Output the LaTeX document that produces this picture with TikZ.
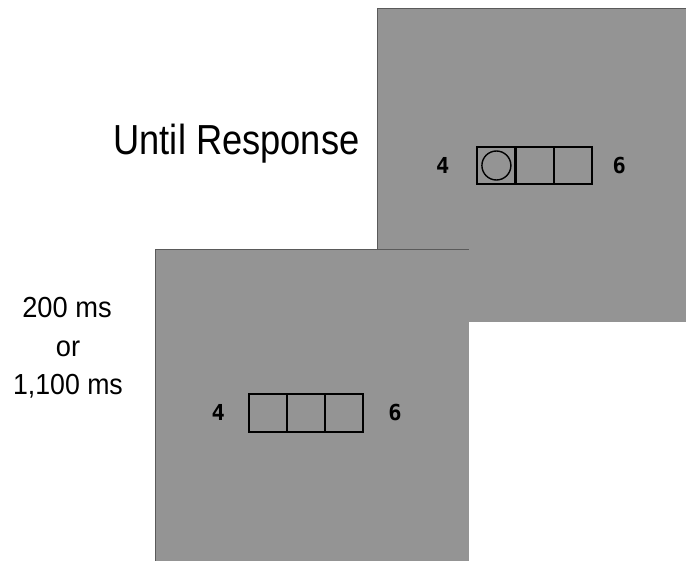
\documentclass[tikz,border=0pt]{standalone}
\usepackage{fontspec}
\usepackage{graphicx}
\setmainfont{Liberation Sans}
\newfontfamily\digitfont{DejaVu Sans Mono}
\definecolor{screengray}{HTML}{949494}
\definecolor{edgegray}{HTML}{5A5A5A}
\tikzset{
  screen/.style={fill=screengray, draw=none},
  screenedge/.style={draw=edgegray, line width=1pt},
  cell/.style={draw=black, line width=2pt, minimum width=38pt, minimum height=37.6pt,
    inner sep=0pt, outer sep=0pt},
  flank/.style={font=\digitfont\bfseries\fontsize{22}{26}\selectfont, anchor=base, inner sep=0pt},
  timing/.style={font=\fontsize{29}{34}\selectfont, anchor=base, inner sep=0pt},
  dot/.style={draw=black, line width=1.4pt, circle, minimum size=29pt, inner sep=0pt}
}
\begin{document}
\begin{tikzpicture}[x=1pt, y=-1pt]
  \useasboundingbox (0,0) rectangle (686,561);

  % response screen (behind)
  \fill[screen] (377.3,8.3) rectangle (686,321.7);
  \draw[screenedge] (377.3,321.7) -- (377.3,8.3) -- (686,8.3);
  \node[cell] (r1) at (496.4,165.5) {};
  \node[cell] (r2) at (534.5,165.5) {};
  \node[cell] (r3) at (572.6,165.5) {};
  \node[dot] (target) at (496.4,165.5) {};
  \node[flank] (r4) at (442.7,173.5) {4};
  \node[flank] (r6) at (619.3,173.5) {6};

  % cue screen (front)
  \fill[screen] (155,249.3) rectangle (469,561);
  \draw[screenedge] (155,561) -- (155,249.3) -- (469,249.3);
  \node[cell] (c1) at (268.3,413.3) {};
  \node[cell] (c2) at (306.3,413.3) {};
  \node[cell] (c3) at (344.3,413.3) {};
  \node[flank] (c4) at (218.3,420.5) {4};
  \node[flank] (c6) at (395,420.5) {6};

  % timing labels
  \node[anchor=base west, inner sep=0pt, font=\fontsize{42}{48}\selectfont] (until)
    at (113.3,155) {\scalebox{0.864}[1]{Until Response}};
  \node[timing] (t1) at (67,317.3) {\scalebox{0.94}[1]{200 ms}};
  \node[timing] (t2) at (68,356.7) {\scalebox{0.94}[1]{or}};
  \node[timing] (t3) at (68,395) {\scalebox{0.92}[1]{1,100 ms}};
\end{tikzpicture}
\end{document}
